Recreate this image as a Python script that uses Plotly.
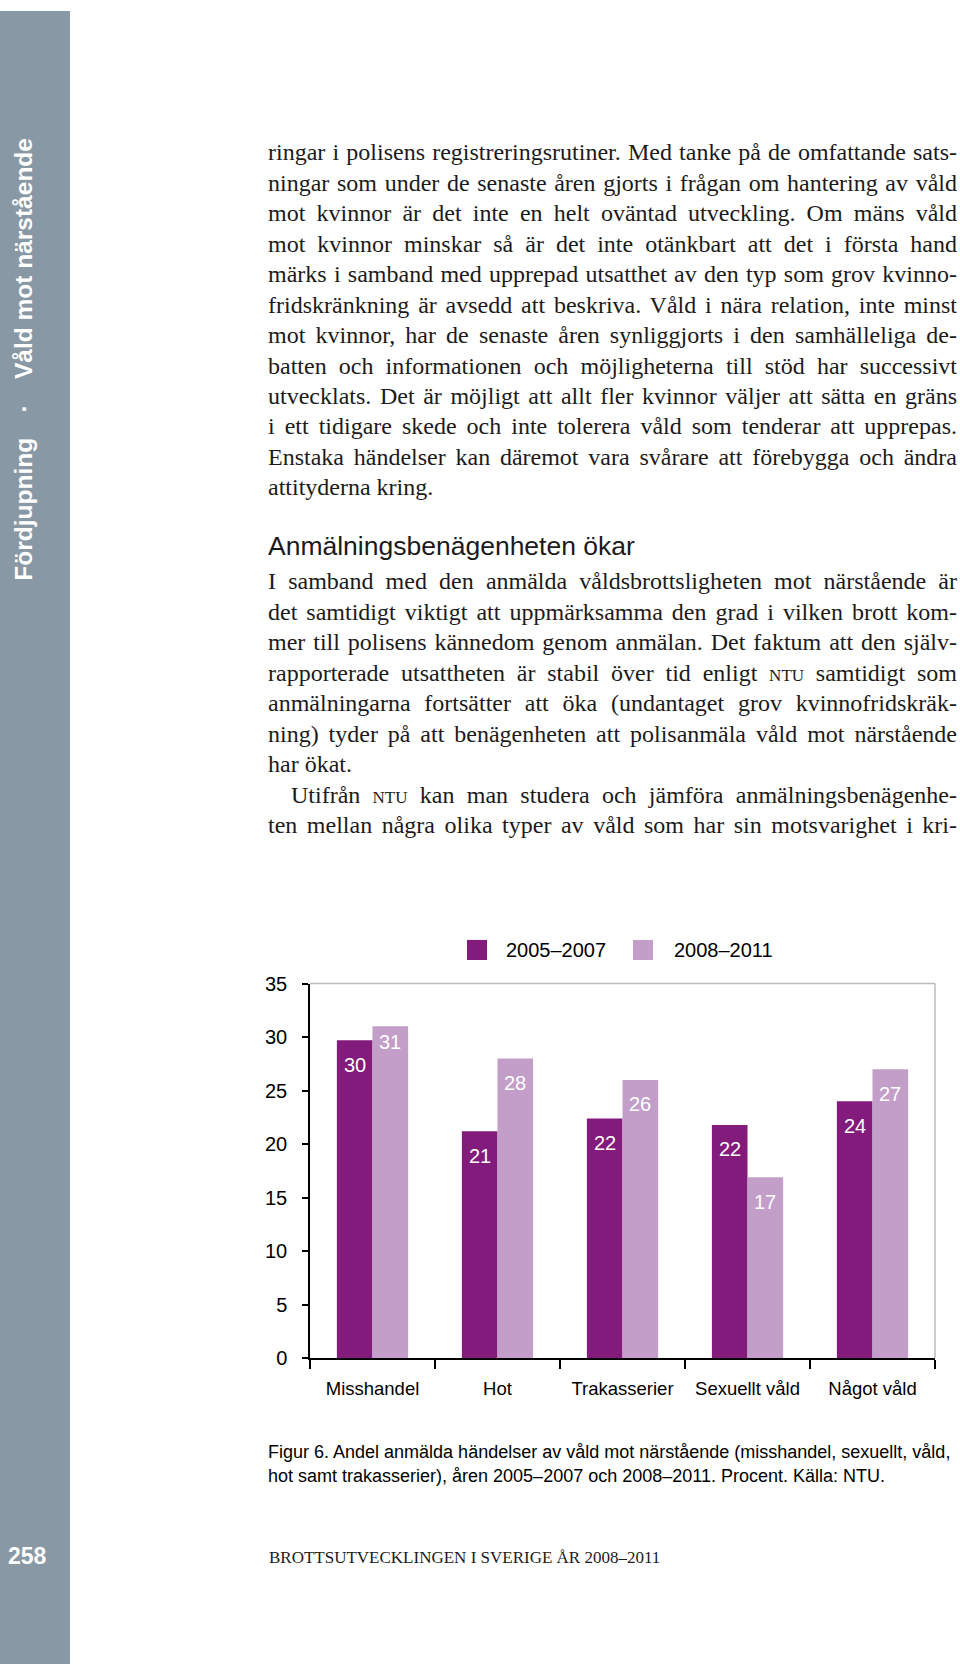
import json
import plotly.graph_objects as go

# ---------------- data ----------------
categories = ["Misshandel", "Hot", "Trakasserier", "Sexuellt våld", "Något våld"]
series_names = ["2005–2007", "2008–2011"]
values_2005_2007 = [29.7, 21.2, 22.4, 21.8, 24.0]
values_2008_2011 = [31.0, 28.0, 26.0, 16.9, 27.0]
y_ticks = [0, 5, 10, 15, 20, 25, 30, 35]

# ---------------- page text ----------------
para1 = [
    "ringar i polisens registreringsrutiner. Med tanke på de omfattande sats-",
    "ningar som under de senaste åren gjorts i frågan om hantering av våld",
    "mot kvinnor är det inte en helt oväntad utveckling. Om mäns våld",
    "mot kvinnor minskar så är det inte otänkbart att det i första hand",
    "märks i samband med upprepad utsatthet av den typ som grov kvinno-",
    "fridskränkning är avsedd att beskriva. Våld i nära relation, inte minst",
    "mot kvinnor, har de senaste åren synliggjorts i den samhälleliga de-",
    "batten och informationen och möjligheterna till stöd har successivt",
    "utvecklats. Det är möjligt att allt fler kvinnor väljer att sätta en gräns",
    "i ett tidigare skede och inte tolerera våld som tenderar att upprepas.",
    "Enstaka händelser kan däremot vara svårare att förebygga och ändra",
    "attityderna kring.",
]
heading = "Anmälningsbenägenheten ökar"
NTU = "<span style='font-size:17px'>NTU</span>"
para2 = [
    "I samband med den anmälda våldsbrottsligheten mot närstående är",
    "det samtidigt viktigt att uppmärksamma den grad i vilken brott kom-",
    "mer till polisens kännedom genom anmälan. Det faktum att den själv-",
    "rapporterade utsattheten är stabil över tid enligt " + NTU + " samtidigt som",
    "anmälningarna fortsätter att öka (undantaget grov kvinnofridskräk-",
    "ning) tyder på att benägenheten att polisanmäla våld mot närstående",
    "har ökat.",
]
para3 = [
    "Utifrån " + NTU + " kan man studera och jämföra anmälningsbenägenhe-",
    "ten mellan några olika typer av våld som har sin motsvarighet i kri-",
]
caption = ["Figur 6. Andel anmälda händelser av våld mot närstående (misshandel, sexuellt, våld,",
           "hot samt trakasserier), åren 2005–2007 och 2008–2011. Procent. Källa: NTU."]
footer = "BROTTSUTVECKLINGEN I SVERIGE ÅR 2008–2011"
NB = "\u00a0\u00a0\u00a0\u2009"
side_text = "Fördjupning" + NB + "·" + NB + "Våld mot närstående"
page_no = "258"

# ---------------- style ----------------
W, H = 960, 1675
DARK = "#821b7b"
LIGHT = "#c29ec9"
SIDEBAR = "#8898a4"
TEXT = "#1c1a1a"
SERIF = "Liberation Serif, Times New Roman, serif"
SANS = "Liberation Sans, Arial, Helvetica, sans-serif"
BODY_SIZE = 24
RIGHT_EDGE = 955
label_drop = [[-24, -24, -24, -24, -24], [-15, -24, -24, -24, -24]]
# vertical calibration of the photographed page (offset, scale)
V_OFF, V_SCALE = 12.0, 0.9848


def px(x):
    return x / W


def py(y):
    page_y = (y - V_OFF) / V_SCALE
    return 1 - page_y / H


fig = go.Figure()
fig.add_trace(go.Bar(x=categories, y=values_2005_2007, name=series_names[0],
                     marker=dict(color=DARK, line=dict(width=0)), showlegend=False,
                     hoverinfo="x+y+name"))
fig.add_trace(go.Bar(x=categories, y=values_2008_2011, name=series_names[1],
                     marker=dict(color=LIGHT, line=dict(width=0)), showlegend=False,
                     hoverinfo="x+y+name"))

bargap = 0.43
half = (1 - bargap) / 4  # offset of each bar's centre from category centre

annotations = []
justify_targets = {}

# value labels
for s, vals in enumerate([values_2005_2007, values_2008_2011]):
    for i, v in enumerate(vals):
        annotations.append(dict(
            x=i + (-half if s == 0 else half), y=v, xref="x", yref="y",
            text=str(round(v)), showarrow=False, yshift=label_drop[s][i] / V_SCALE,
            font=dict(family=SANS, size=20, color="white"),
            xanchor="center", yanchor="middle"))


def txt(x, y, text, size, family, color=TEXT, xanchor="left", justify=False, **kw):
    annotations.append(dict(x=px(x), y=py(y), xref="paper", yref="paper",
                            text=text, showarrow=False, xanchor=xanchor,
                            yanchor="middle", align="left" if xanchor == "left" else "center",
                            font=dict(family=family, size=size, color=color), **kw))
    if justify:
        justify_targets[str(len(annotations) - 1)] = RIGHT_EDGE - x


# body text
for k, line in enumerate(para1):
    txt(266, 153 + 30.4 * k, line, BODY_SIZE, SERIF, justify=(k < len(para1) - 1))
txt(266, 546, heading, 26.5, SANS)
for k, line in enumerate(para2):
    txt(266, 581 + 30.4 * k, line, BODY_SIZE, SERIF, justify=(k < len(para2) - 1))
txt(289, 794, para3[0], BODY_SIZE, SERIF, justify=True)
txt(266, 824.5, para3[1], BODY_SIZE, SERIF, justify=True)

# legend (manual)
shapes = []
for sx, tx, col, name in [(467, 504, DARK, series_names[0]), (633, 672, LIGHT, series_names[1])]:
    shapes.append(dict(type="rect", xref="paper", yref="paper",
                       x0=px(sx), x1=px(sx + 20), y0=py(959), y1=py(939),
                       fillcolor=col, line=dict(width=0)))
    txt(tx, 949, name, 20, SANS, color="black")

# caption
txt(266, 1450, caption[0], 18, SANS, color="black")
txt(266, 1474, caption[1], 18, SANS, color="black")

# footer
txt(267, 1555, footer, 17, SERIF, color=TEXT)

# sidebar
shapes.append(dict(type="rect", xref="paper", yref="paper", x0=0, x1=px(70), y0=0, y1=1,
                   fillcolor=SIDEBAR, line=dict(width=0), layer="below"))
txt(24, 360, "<b>" + side_text + "</b>", 24.5, SANS, color="white", xanchor="center",
    textangle=-90)
txt(27, 1554, "<b>" + page_no + "</b>", 23, SANS, color="white", xanchor="center")

# plot frame: light grey top and right borders
shapes.append(dict(type="line", xref="x domain", yref="y domain", x0=0, x1=1, y0=1, y1=1,
                   line=dict(color="#bdbdbd", width=1.5)))
shapes.append(dict(type="line", xref="x domain", yref="y domain", x0=1, x1=1, y0=0, y1=1,
                   line=dict(color="#bdbdbd", width=1.5)))

fig.update_layout(
    width=W, height=H,
    margin=dict(l=0, r=0, t=0, b=0),
    paper_bgcolor="white", plot_bgcolor="white",
    barmode="group", bargap=bargap, bargroupgap=0,
    annotations=annotations, shapes=shapes,
    showlegend=False,
    xaxis=dict(domain=[px(310), px(935)], type="category",
               showline=True, linecolor="black", linewidth=1.5,
               ticks="outside", tickson="boundaries", ticklen=9, tickwidth=1.5,
               tickcolor="black", showgrid=False, zeroline=False,
               tickfont=dict(family=SANS, size=18.5, color="black"),
               ticklabelstandoff=13),
    yaxis=dict(domain=[py(1356.5), py(982.5)], range=[0, 35], tickvals=y_ticks,
               showline=True, linecolor="black", linewidth=1.5,
               ticks="outside", ticklen=6, tickwidth=1.5, tickcolor="black",
               showgrid=False, zeroline=False,
               tickfont=dict(family=SANS, size=20, color="black"),
               ticklabelstandoff=11),
)

post_js = """
var de = document.documentElement, bd = document.body;
[de, bd].forEach(function(el){
  el.style.margin = '0'; el.style.padding = '0';
  el.style.overflow = 'hidden'; el.style.height = '1675px'; el.style.width = '960px';
});
var gd = document.getElementById('{plot_id}');
gd.style.position = 'fixed'; gd.style.left = '0px'; gd.style.top = '0px'; gd.style.margin = '0';
var targets = __TARGETS__;
function justifyLines(){
  gd.querySelectorAll('g.annotation').forEach(function(g){
    var w = targets[g.getAttribute('data-index')];
    if (w === undefined) return;
    var t = g.querySelector('text.annotation-text');
    if (!t) return;
    t.style.wordSpacing = '0px';
    var cur = t.getComputedTextLength();
    var n = (t.textContent.match(/ /g) || []).length;
    if (n > 0) t.style.wordSpacing = ((w - cur) / n) + 'px';
  });
}
justifyLines();
gd.on('plotly_afterplot', justifyLines);
""".replace("__TARGETS__", json.dumps(justify_targets))

fig.write_html("out.html", post_script=post_js, config={"displayModeBar": False})
